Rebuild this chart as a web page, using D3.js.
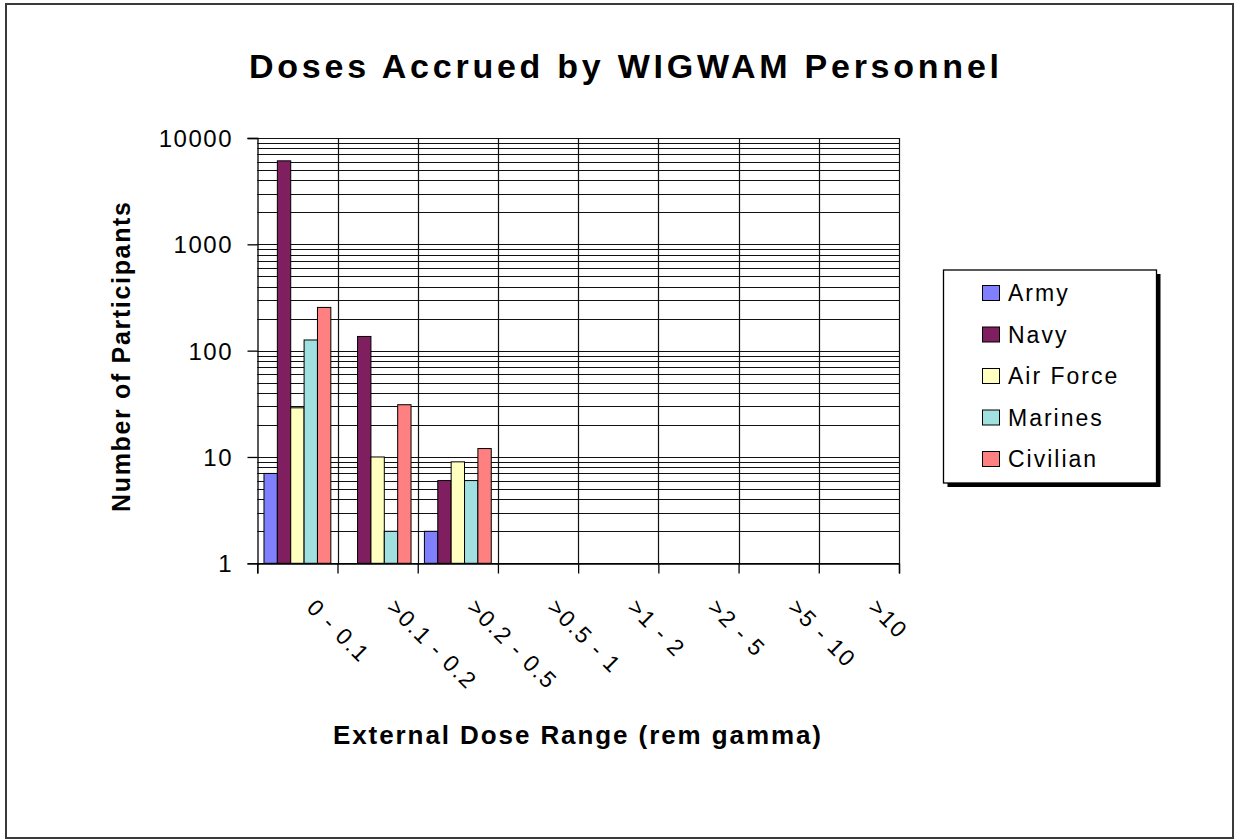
<!DOCTYPE html>
<html>
<head>
<meta charset="utf-8">
<script src="https://cdn.jsdelivr.net/npm/d3@7"></script>
<style>
  html, body { margin: 0; padding: 0; background: #fff; }
  svg { display: block; }
  text { font-family: "Liberation Sans", Arial, sans-serif; fill: #000; }
</style>
</head>
<body>
<svg id="chart" width="1235" height="840"></svg>
<script>
// ---- data ----
const categories = ["0 - 0.1", ">0.1 - 0.2", ">0.2 - 0.5", ">0.5 - 1", ">1 - 2", ">2 - 5", ">5 - 10", ">10"];
const seriesNames = ["Army", "Navy", "Air Force", "Marines", "Civilian"];
const army     = [7,    null, 2,  null, null, null, null, null];
const navy     = [6100, 136,  6,  null, null, null, null, null];
const airForce = [29,   10,   9,  null, null, null, null, null];
const marines  = [126,  2,    6,  null, null, null, null, null];
const civilian = [255,  31,   12, null, null, null, null, null];
const yTickValues = [1, 10, 100, 1000, 10000];
const seriesColors = ["#8080FF", "#7F1F5F", "#FFFFC0", "#A0E0E0", "#FF8080"];
const titleText = "Doses Accrued by WIGWAM Personnel";
const xTitleText = "External Dose Range (rem gamma)";
const yTitleText = "Number of Participants";

const seriesValues = [army, navy, airForce, marines, civilian];

// ---- layout ----
const svg = d3.select("#chart");
const plot = { left: 257.3, right: 899, top: 138, bottom: 563.3 };

// outer border
svg.append("rect")
  .attr("x", 6).attr("y", 4).attr("width", 1227).attr("height", 834)
  .attr("fill", "#fff").attr("stroke", "#3a3a3a").attr("stroke-width", 2);

const x = d3.scaleBand().domain(categories).range([plot.left, plot.right]).padding(0);
const xSub = d3.scaleBand().domain(seriesNames).range([0, x.bandwidth()])
  .paddingInner(0).paddingOuter(0.5);
const y = d3.scaleLog().domain([1, 10000]).range([plot.bottom, plot.top]);
const xEdge = d3.scaleLinear().domain([0, categories.length]).range([plot.left, plot.right]);

// horizontal gridlines (major + minor)
const gridVals = [];
for (let d = 1; d < 10000; d *= 10) for (let k = 1; k <= 9; k++) gridVals.push(d * k);
gridVals.push(10000);
svg.append("g").selectAll("line").data(gridVals).join("line")
  .attr("x1", plot.left).attr("x2", plot.right)
  .attr("y1", d => Math.round(y(d)) + 0.5).attr("y2", d => Math.round(y(d)) + 0.5)
  .attr("stroke", "#111").attr("stroke-width", 1.2);

// vertical gridlines at category boundaries
svg.append("g").selectAll("line").data(d3.range(1, categories.length + 1)).join("line")
  .attr("x1", d => Math.round(xEdge(d)) + 0.5).attr("x2", d => Math.round(xEdge(d)) + 0.5)
  .attr("y1", plot.top).attr("y2", plot.bottom)
  .attr("stroke", "#111").attr("stroke-width", 1.2);

// bars
const barData = [];
seriesValues.forEach((vals, si) => {
  vals.forEach((v, ci) => {
    if (v != null && v > 0) barData.push({ s: seriesNames[si], si, c: categories[ci], v });
  });
});
svg.append("g").selectAll("rect").data(barData).join("rect")
  .attr("x", d => x(d.c) + xSub(d.s))
  .attr("y", d => y(d.v))
  .attr("width", xSub.bandwidth())
  .attr("height", d => y(1) - y(d.v))
  .attr("fill", d => seriesColors[d.si])
  .attr("stroke", "#000").attr("stroke-width", 1);

// y axis
const yAxis = svg.append("g").attr("transform", `translate(${Math.round(plot.left) + 0.5},0)`)
  .call(d3.axisLeft(y).tickValues(yTickValues).tickSize(10).tickPadding(16)
    .tickFormat(d3.format("d")));
yAxis.select(".domain").attr("stroke", "#000").attr("stroke-width", 1.3);
yAxis.selectAll(".tick line").attr("stroke", "#000").attr("stroke-width", 1.3);
yAxis.selectAll(".tick text")
  .style("font-family", "'Liberation Sans', Arial, sans-serif")
  .style("font-size", "24px").style("letter-spacing", "1.5px")
  .attr("dx", "1.5px").attr("dy", "0.36em");

// x axis (ticks at boundaries)
const xAxis = svg.append("g").attr("transform", `translate(0,${Math.round(plot.bottom) + 0.5})`)
  .call(d3.axisBottom(xEdge).tickValues(d3.range(0, categories.length + 1))
    .tickSize(10).tickFormat(""));
xAxis.select(".domain").attr("stroke", "#000").attr("stroke-width", 1.3);
xAxis.selectAll(".tick line").attr("stroke", "#000").attr("stroke-width", 1.3);

// x category labels, rotated
svg.append("g").selectAll("text").data(categories).join("text")
  .attr("transform", d => `translate(${x(d) + x.bandwidth() / 2 + 8},609) rotate(45)`)
  .attr("text-anchor", "start")
  .style("font-size", "23px").style("letter-spacing", "1.8px")
  .text(d => d);

// title
svg.append("text")
  .attr("x", 624).attr("y", 78)
  .attr("text-anchor", "middle")
  .attr("textLength", 750).attr("lengthAdjust", "spacing")
  .style("font-size", "34px").style("font-weight", "bold")
  .text(titleText);

// x title
svg.append("text")
  .attr("x", 577).attr("y", 744)
  .attr("text-anchor", "middle")
  .attr("textLength", 488).attr("lengthAdjust", "spacing")
  .style("font-size", "26px").style("font-weight", "bold")
  .text(xTitleText);

// y title
svg.append("text")
  .attr("transform", "translate(130,357) rotate(-90)")
  .attr("text-anchor", "middle")
  .attr("textLength", 310).attr("lengthAdjust", "spacing")
  .style("font-size", "25px").style("font-weight", "bold")
  .text(yTitleText);

// legend
const legend = { x: 943.5, y: 270, w: 213, h: 213 };
svg.append("rect")
  .attr("x", legend.x + 4).attr("y", legend.y + 4)
  .attr("width", legend.w).attr("height", legend.h)
  .attr("fill", "#000");
svg.append("rect")
  .attr("x", legend.x).attr("y", legend.y)
  .attr("width", legend.w).attr("height", legend.h)
  .attr("fill", "#fff").attr("stroke", "#000").attr("stroke-width", 1.3);
const ly = d3.scalePoint().domain(seriesNames).range([293, 459]);
const lg = svg.append("g").selectAll("g").data(seriesNames).join("g")
  .attr("transform", d => `translate(982,${ly(d)})`);
lg.append("rect")
  .attr("x", 0.5).attr("y", -7.5).attr("width", 17).attr("height", 15)
  .attr("fill", (d, i) => seriesColors[i]).attr("stroke", "#000").attr("stroke-width", 1);
lg.append("text")
  .attr("x", 26).attr("y", 8)
  .style("font-size", "23px").style("letter-spacing", "2px")
  .text(d => d);
</script>
</body>
</html>
